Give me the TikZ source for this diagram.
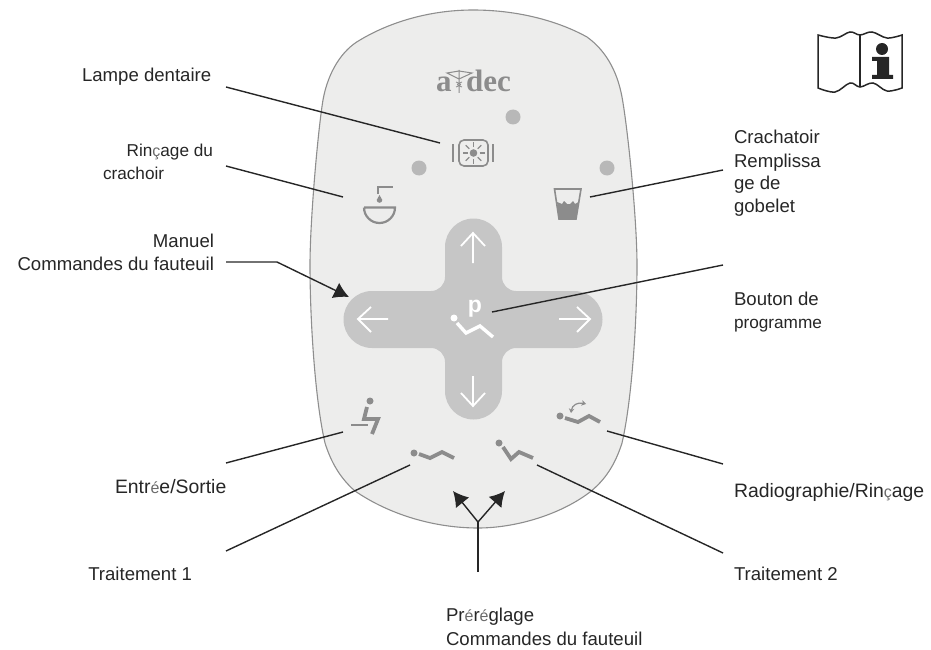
\documentclass[tikz,border=0pt]{standalone}
\usepackage{fontspec}
\usepackage{xcolor}
\usetikzlibrary{arrows.meta}
\setmainfont{Liberation Sans}
\newfontfamily\logofont{Liberation Serif}
\definecolor{panelfill}{HTML}{EDEDEC}
\definecolor{paneledge}{HTML}{8E8E8E}
\definecolor{padfill}{HTML}{C6C6C6}
\definecolor{icongray}{HTML}{8C8C8C}
\definecolor{ledgray}{HTML}{B8B8B8}
\definecolor{inkdark}{HTML}{262626}
\definecolor{softink}{HTML}{6A6A6A}
\newcommand{\softch}[1]{{\color{softink}\fontsize{16}{16}\selectfont #1}}
\tikzset{
  lbl/.style={font=\fontsize{18.6}{23}\selectfont, text=inkdark, inner sep=0pt, outer sep=0pt},
  lblsmall/.style={lbl, font=\fontsize{17.2}{23}\selectfont},
  lblwide/.style={lbl, font=\fontsize{19.4}{23}\selectfont},
  leader/.style={line width=1.4pt, color=inkdark},
  padarrow/.style={line width=1.8pt, color=white},
  ico/.style={line width=1.6pt, color=icongray},
  seat/.style={line width=3.8pt, color=icongray, line join=miter},
  headdot/.style={fill=icongray, circle, minimum size=7pt, inner sep=0pt},
  led/.style={fill=ledgray, circle, minimum size=15pt, inner sep=0pt}
}
\begin{document}
\begin{tikzpicture}[x=1pt,y=-1pt,>={Latex[length=15pt,width=17pt]}]
\useasboundingbox (0,0) rectangle (931,650);
% panel
\draw[fill=panelfill,draw=paneledge,line width=1.1pt] (473,10) .. controls (520,10) and (560,22) .. (587,37) .. controls (605,50) and (617,70) .. (622,97) .. controls (628,130) and (637,220) .. (637,265) .. controls (637,320) and (632,400) .. (622,443) .. controls (615,465) and (605,480) .. (590,492) .. controls (560,515) and (515,528) .. (478,528) .. controls (435,528) and (390,515) .. (355,491) .. controls (340,478) and (331,462) .. (325,443) .. controls (315,400) and (310,320) .. (310,265) .. controls (310,220) and (318,130) .. (323,100) .. controls (328,72) and (342,50) .. (360,40) .. controls (390,22) and (430,10) .. (473,10) -- cycle;
% cross pad
\fill[padfill] (445,247) arc[start angle=180,end angle=360,radius=28.5] -- (502,277) arc[start angle=180,end angle=90,radius=14] -- (574,291) arc[start angle=-90,end angle=90,radius=28.5] -- (516,348) arc[start angle=270,end angle=180,radius=14] -- (502,391) arc[start angle=0,end angle=180,radius=28.5] -- (445,362) arc[start angle=0,end angle=-90,radius=14] -- (372,348) arc[start angle=90,end angle=270,radius=28.5] -- (431,291) arc[start angle=90,end angle=0,radius=14] -- cycle;
\draw[padarrow] (473,263) -- (473,233) (461,246) -- (473,233) -- (485,246);
\draw[padarrow] (388,319) -- (358,319) (371,307) -- (358,319) -- (371,332);
\draw[padarrow] (559,319) -- (590,319) (577,307) -- (590,319) -- (577,332);
\draw[padarrow] (473,376) -- (473,406) (461,393) -- (473,406) -- (485,393);
% program button
\node[font=\fontsize{23}{23}\selectfont\bfseries,text=white,inner sep=0pt] (progp) at (475,309) {p};
\node[fill=white,circle,minimum size=7pt,inner sep=0pt] (proghead) at (454,318) {};
\draw[line width=3.4pt,white] (457,323) -- (466,333) -- (480,326) -- (493,337);
% logo
\node[font=\logofont\bfseries\fontsize{31}{31}\selectfont,text=icongray,anchor=base west,inner sep=0pt] (logoa) at (436,92) {a};
\node[font=\logofont\bfseries\fontsize{31}{31}\selectfont,text=icongray,anchor=base west,inner sep=0pt] (logodec) at (466,92) {dec};
\draw[icongray,line width=1pt] (459,70) -- (459,93) (447,73) -- (459,71) -- (472,73) -- (459,79) -- cycle;
\draw[icongray,line width=.8pt] (456,82) .. controls (462,84) and (462,85) .. (456,87) (462,82) .. controls (456,84) and (456,85) .. (462,87);
% leds
\node[led] (ledlamp) at (513,117) {};
\node[led] (ledbowl) at (419,168) {};
\node[led] (ledcup) at (607,168) {};
% lamp icon
\draw[ico,rounded corners=5pt] (459,140) rectangle (488,166);
\draw[line width=2.4pt,icongray] (453,144) -- (453,162) (493,144) -- (493,162);
\fill[icongray] (473.5,153) circle (3.8);
\foreach \a in {0,45,...,315}
  \draw[icongray,line width=1.3pt] (473.5,153) ++(\a:6) -- ++(\a:5);
% bowl icon
\draw[ico,line width=2.2pt] (378,194) -- (378,187) -- (393,187);
\fill[icongray] (379.5,195) -- (382.3,200) arc[start angle=0,end angle=180,radius=2.8] -- cycle;
\draw[ico,line width=2.2pt] (364,207.5) -- (395,207.5) arc[start angle=0,end angle=180,radius=15.5];
% cup icon
\draw[ico] (554.5,189) -- (581,189) -- (576,219) -- (559,219) -- cycle;
\fill[icongray] (557,202) -- (562,204) -- (564,201) -- (567,204) -- (570,204) -- (573,201) -- (575,204) -- (578.5,202) -- (576,219) -- (559,219) -- cycle;
% entry icon
\node[headdot] (enthead) at (370,401) {};
\draw[seat] (367,407) -- (364,419) -- (378,419) -- (372,434);
\draw[ico] (351,425) -- (368,425);
% treatment 1
\node[headdot] (traonehead) at (414,453) {};
\draw[seat] (419,454) -- (430,458) -- (442,452) -- (454,458);
% treatment 2
\node[headdot] (tratwohead) at (499,443) {};
\draw[seat] (503,447) -- (511,459) -- (519,452) -- (533,458);
% x-ray / rinse
\node[headdot] (radhead) at (560,416) {};
\draw[seat] (565,418) -- (578,422) -- (589,416) -- (600,422);
\draw[{Stealth[length=4.5pt,width=5.5pt]}-{Stealth[length=4.5pt,width=5.5pt]},icongray,line width=1.2pt] (571,413) .. controls (572,405) and (578,402) .. (586,404);
% book
\draw[inkdark,line width=1.5pt] plot[smooth,tension=.6] coordinates {(818,35) (836,38) (850,32) (860,35) (872,32) (887,38) (902,35)} -- (902,88) -- plot[smooth,tension=.6] coordinates {(902,88) (887,91) (873,83) (860,87) (850,83) (835,92) (818,88)} -- cycle;
\draw[inkdark,line width=1.5pt] (860,35) -- (860,87);
\fill[inkdark] (882,49) circle (6);
\fill[inkdark] (872,57) -- (889,57) -- (889,75) -- (893,75) -- (893,79) -- (872,79) -- (872,75) -- (877,75) -- (877,61) -- (872,61) -- cycle;
% labels
\node[lbl,anchor=base west] (lamplbl) at (82,82) {Lampe dentaire};
\node[lblsmall,anchor=base east] (bowllbl) at (213,156) {Rin\softch{ç}age du};
\node[lblsmall,anchor=base west] (bowllbltwo) at (103,179) {crachoir};
\node[lbl,anchor=base east] (manlbl) at (214,247) {Manuel};
\node[lbl,anchor=base east] (manlbltwo) at (214,270) {Commandes du fauteuil};
\node[lblwide,anchor=base west] (entlbl) at (115,493) {Entr\softch{é}e/Sortie};
\node[lbl,anchor=base east] (traonelbl) at (192,580) {Traitement 1};
\node[lbl,anchor=base west] (prelbl) at (446,621) {Pr\softch{é}r\softch{é}glage};
\node[lbl,anchor=base west] (prelbltwo) at (446,645) {Commandes du fauteuil};
\node[lbl,anchor=base west] (cuplbl) at (734,143) {Crachatoir};
\node[lbl,anchor=base west] (cuplbltwo) at (734,167) {Remplissa};
\node[lbl,anchor=base west] (cuplblthree) at (734,189) {ge de};
\node[lbl,anchor=base west] (cuplblfour) at (734,212) {gobelet};
\node[lbl,anchor=base west] (proglbl) at (734,305) {Bouton de};
\node[lblsmall,anchor=base west] (proglbltwo) at (734,328) {programme};
\node[lblwide,anchor=base west] (radlbl) at (734,497) {Radiographie/Rin\softch{ç}age};
\node[lbl,anchor=base west] (tratwolbl) at (734,580) {Traitement 2};
% leader ends
\coordinate (lampfrom) at (226,87);
\coordinate (lampto) at (440,143);
\coordinate (bowlfrom) at (226,166);
\coordinate (bowlto) at (343,197);
\coordinate (manfrom) at (226,262);
\coordinate (manbend) at (277,262);
\coordinate (manto) at (349,297);
\coordinate (cupfrom) at (723,170);
\coordinate (cupto) at (590,197);
\coordinate (progfrom) at (723,265);
\coordinate (progto) at (492,312);
\coordinate (entfrom) at (226,463);
\coordinate (entto) at (343,432);
\coordinate (traonefrom) at (226,551);
\coordinate (traoneto) at (410,465);
\coordinate (tratwofrom) at (723,553);
\coordinate (tratwoto) at (537,465);
\coordinate (radfrom) at (723,464);
\coordinate (radto) at (607,431);
\coordinate (prefrom) at (478,572);
\coordinate (prefork) at (478,522);
\coordinate (preleft) at (453,491);
\coordinate (preright) at (505,491);
\draw[leader] (lampfrom)--(lampto);
\draw[leader] (bowlfrom)--(bowlto);
\draw[leader,->] (manfrom)--(manbend)--(manto);
\draw[leader] (cupfrom)--(cupto);
\draw[leader] (progfrom)--(progto);
\draw[leader] (entfrom)--(entto);
\draw[leader] (traonefrom)--(traoneto);
\draw[leader] (tratwofrom)--(tratwoto);
\draw[leader] (radfrom)--(radto);
\draw[leader] (prefrom)--(prefork);
\draw[leader,->] (prefork)--(preleft);
\draw[leader,->] (prefork)--(preright);
\end{tikzpicture}
\end{document}
